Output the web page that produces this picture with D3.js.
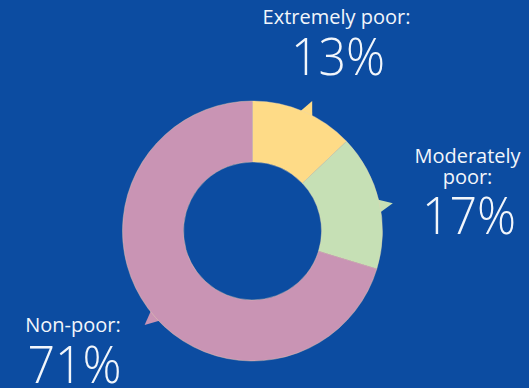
<!DOCTYPE html>
<html>
<head>
<meta charset="utf-8">
<script src="https://cdn.jsdelivr.net/npm/d3@7"></script>
<style>
  html, body { margin: 0; padding: 0; background: #0c4ca1; }
  svg { display: block; }
  text { font-family: "Open Sans", "Noto Sans", sans-serif; fill: #f2f6fb; }
</style>
</head>
<body>
<svg id="chart" width="529" height="388"></svg>
<script>
// Poverty status shares
const categories = ["Extremely poor:", "Moderately poor:", "Non-poor:"];
const shares = [13, 17, 71];
const colors = ["#fedb87", "#c6e0b5", "#c994b4"];

// Label placement and callout tails (layout only)
const labelLines = [["Extremely poor:"], ["Moderately", "poor:"], ["Non-poor:"]];
const labelPos = [
  { x: 336.5, y: 24 },
  { x: 467.5, y: 163 },
  { x: 73, y: 332 }
];
const tailShift = [1.5, 2.2, -4.5]; // degrees from slice middle

const W = 529, H = 388;
const cx = 252.5, cy = 231, R = 130, r0 = 69;

const svg = d3.select("#chart");
svg.append("rect").attr("width", W).attr("height", H).attr("fill", "#0c4ca1");

const pie = d3.pie().sort(null).value(d => d)(shares);
const arc = d3.arc().innerRadius(r0).outerRadius(R);

const g = svg.append("g").attr("transform", `translate(${cx},${cy})`);

const toRad = Math.PI / 180;
const pt = (a, rad) => [rad * Math.sin(a), -rad * Math.cos(a)];

// callout tails sitting on the outer edge of each slice
g.selectAll("path.tail")
  .data(pie)
  .join("path")
  .attr("class", "tail")
  .attr("fill", (d, i) => colors[i])
  .attr("d", (d, i) => {
    const mid = (d.startAngle + d.endAngle) / 2 + tailShift[i] * toRad;
    const half = 3.4 * toRad;
    const p1 = pt(mid - half, R - 3);
    const p2 = pt(mid + half, R - 3);
    const tip = pt(mid, R + 13);
    return d3.line()([p1, tip, p2]) + "Z";
  });

g.selectAll("path.slice")
  .data(pie)
  .join("path")
  .attr("class", "slice")
  .attr("fill", (d, i) => colors[i])
  .attr("stroke", "#e9d3b0")
  .attr("stroke-width", 0.4)
  .attr("d", arc);

// labels: category name above the big percentage
labelLines.forEach((lines, i) => {
  const t = svg.append("g").attr("transform", `translate(${labelPos[i].x},${labelPos[i].y})`);
  lines.forEach((line, k) => {
    t.append("text")
      .attr("x", 0)
      .attr("y", k * 21)
      .attr("text-anchor", "middle")
      .attr("font-size", 20)
      .text(line);
  });
  const last = (lines.length - 1) * 21;
  t.append("text")
    .attr("x", 0)
    .attr("y", last + 50.5)
    .attr("text-anchor", "middle")
    .attr("font-size", 52)
    .attr("font-weight", 300)
    .attr("transform", "translate(1.5,0) scale(0.93,1)")
    .text(shares[i] + "%");
});
</script>
</body>
</html>
